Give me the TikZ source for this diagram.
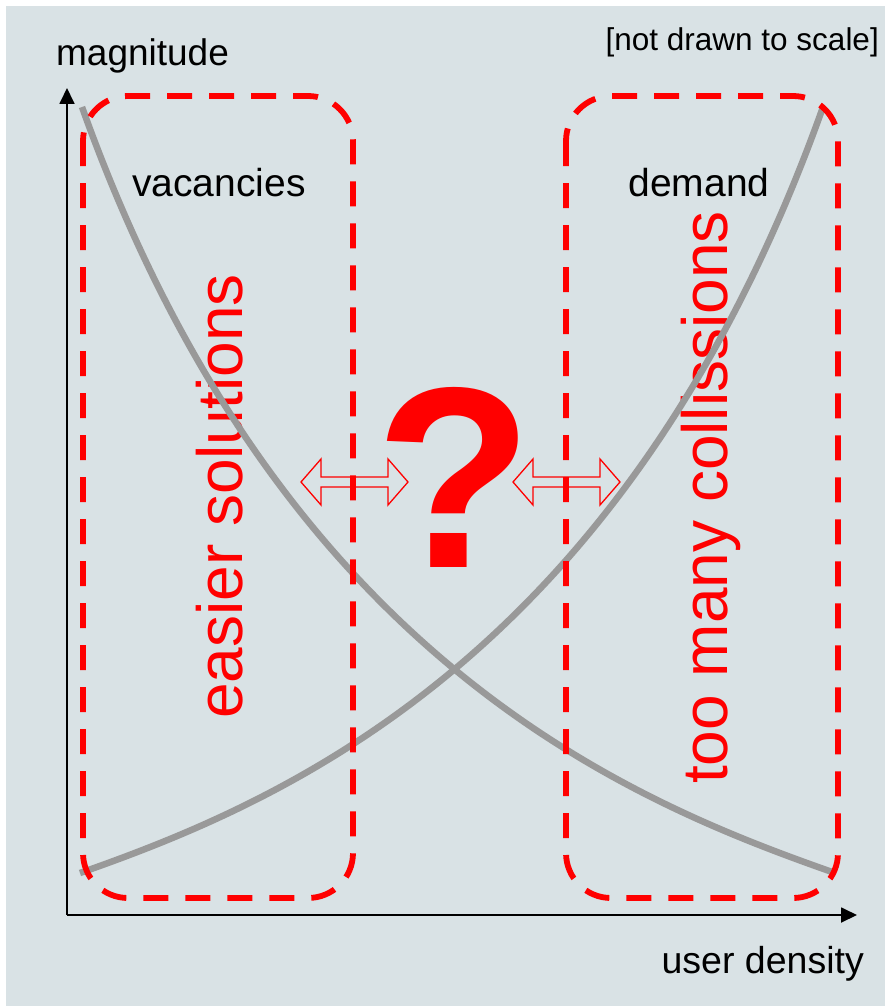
\documentclass[tikz,border=0pt]{standalone}
\usepackage{fontspec}
\setmainfont{Liberation Sans}
\usetikzlibrary{arrows.meta}
\definecolor{bg}{RGB}{217,226,229}
\definecolor{curvegray}{RGB}{153,153,153}
\definecolor{myred}{RGB}{255,0,0}
\begin{document}
\begin{tikzpicture}[x=1pt,y=-1pt,
  lbl/.style={inner sep=0pt, text=black},
  region/.style={draw=myred, line width=5.8pt, dash pattern=on 25pt off 17pt, rounded corners=45pt},
  curveline/.style={draw=curvegray, line width=6.5pt},
  axis/.style={line width=1.8pt, -{Triangle[length=16pt,width=15pt]}},
  bigred/.style={text=myred, inner sep=0pt, font=\fontsize{64}{70}\selectfont, rotate=90, anchor=base},
  hollow/.style={draw=myred, line width=1.3pt, line join=miter}
]
\useasboundingbox (0,0) rectangle (885,1006);
\fill[white] (0,0) rectangle (885,1006);
\fill[bg] (6,6) rectangle (885,1006);

% rotated red labels
\node[bigred] (easy) at (242,496.5) {easier solutions};
\node[bigred] (coll) at (727,497.5) {too many collissions};

% curves
\coordinate (dstart) at (82,107);
\coordinate (dend) at (835,873);
\coordinate (istart) at (80,873);
\coordinate (iend) at (823,107);
\draw[curveline] (dstart) .. controls (281,664) and (636,803) .. (dend);
\draw[curveline] (istart) .. controls (279,803) and (626,660) .. (iend);

% axes
\coordinate (origin) at (67,915);
\coordinate (ytip) at (67,88);
\coordinate (xtip) at (857,915);
\draw[axis] (origin) -- (ytip);
\draw[axis] (origin) -- (xtip);

% regions
\draw[region] (83,96) rectangle (353,898);
\draw[region] (566,96) rectangle (838,898);

% hollow double arrows
\draw[hollow] (301,482) -- (321,459) -- (321,477) -- (388,477) -- (388,459) -- (408,482) -- (388,505) -- (388,487) -- (321,487) -- (321,505) -- cycle;
\draw[hollow] (513,482) -- (533,459) -- (533,477) -- (600,477) -- (600,459) -- (620,482) -- (600,505) -- (600,487) -- (533,487) -- (533,505) -- cycle;

% question mark
\node[text=myred, inner sep=0pt, anchor=base, font=\bfseries\fontsize{258}{258}\selectfont] (q) at (454.5,567) {?};

% black labels
\node[lbl, anchor=base, font=\fontsize{37}{40}\selectfont] (mag) at (142.5,65.7) {magnitude};
\node[lbl, anchor=base east, font=\fontsize{31.5}{34}\selectfont] (note) at (879,51) {[not drawn to scale]};
\node[lbl, anchor=base, font=\fontsize{39}{42}\selectfont] (vac) at (219,196.5) {vacancies};
\node[lbl, anchor=base, font=\fontsize{39}{42}\selectfont] (dem) at (699,196) {demand};
\node[lbl, anchor=base east, font=\fontsize{37.5}{40}\selectfont] (udens) at (864,973) {user density};
\end{tikzpicture}
\end{document}
